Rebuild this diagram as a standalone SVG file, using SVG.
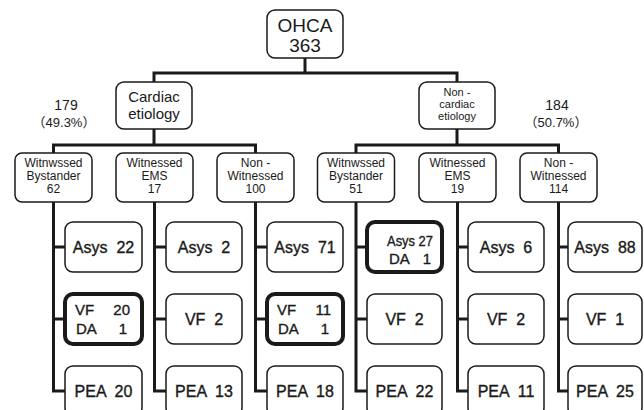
<svg xmlns="http://www.w3.org/2000/svg" width="644" height="410" viewBox="0 0 644 410">
<style>
text{font-family:"Liberation Sans","Noto Sans CJK JP",Arial,sans-serif;fill:#1a1a1a;text-anchor:middle}
.box{fill:#fff;stroke:#1a1a1a;stroke-width:1.5}
.bold{fill:#fff;stroke:#1a1a1a;stroke-width:4}
.con{fill:none;stroke:#1a1a1a;stroke-width:3}
.l2{font-size:12px}
.l3{font-size:16px;white-space:pre;stroke:#1a1a1a;stroke-width:0.35}
.b3{font-size:15px;stroke:#1a1a1a;stroke-width:0.35}
.s{text-anchor:start}
.e{text-anchor:end}
</style>
<rect width="644" height="410" fill="#fff"/>
<g id="connectors">
<path class="con" d="M305 58V73M154 82V73H457V82"/>
<path class="con" d="M154 129V145M53.5 153V145H255.5V153"/>
<path class="con" d="M457 129V145M356 153V145H558.5V153"/>
<path class="con" d="M53.5 202V391H65M53.5 247H65M53.5 319H65"/>
<path class="con" d="M154.5 202V391H166M154.5 247H166M154.5 319H166"/>
<path class="con" d="M255.5 202V391H267M255.5 247H267M255.5 319H267"/>
<path class="con" d="M356 202V391H367M356 247H367M356 319H367"/>
<path class="con" d="M457.5 202V391H468M457.5 247H468M457.5 319H468"/>
<path class="con" d="M558.5 202V391H568M558.5 247H568M558.5 319H568"/>
</g>
<g id="ohca"><rect class="box" x="267" y="10" width="76" height="48" rx="8"/><text x="305" y="32" font-size="19">OHCA</text><text x="305" y="52" font-size="19">363</text></g>
<g id="cardiac"><rect class="box" x="116" y="82" width="76" height="47" rx="8"/><text x="154" y="102" font-size="15">Cardiac</text><text x="154" y="119" font-size="15">etiology</text></g>
<g id="noncardiac"><rect class="box" x="419" y="82" width="76" height="47" rx="8"/><text x="457" y="96" font-size="11">Non -</text><text x="457" y="108" font-size="11">cardiac</text><text x="457" y="120" font-size="11">etiology</text></g>
<g id="pct-cardiac"><text x="66" y="110" font-size="14">179</text><text x="64" y="127" font-size="13">（49.3%）</text></g>
<g id="pct-noncardiac"><text x="557" y="110" font-size="14">184</text><text x="556" y="127" font-size="13">（50.7%）</text></g>
<g id="c-wb"><rect class="box" x="15" y="153" width="77" height="49" rx="7"/><text class="l2" x="53.5" y="167">Witnwssed</text><text class="l2" x="53.5" y="180">Bystander</text><text class="l2" x="53.5" y="193">62</text></g>
<g id="c-we"><rect class="box" x="116" y="153" width="77" height="49" rx="7"/><text class="l2" x="154.5" y="167">Witnessed</text><text class="l2" x="154.5" y="180">EMS</text><text class="l2" x="154.5" y="193">17</text></g>
<g id="c-nw"><rect class="box" x="217" y="153" width="77" height="49" rx="7"/><text class="l2" x="255.5" y="167">Non -</text><text class="l2" x="255.5" y="180">Witnessed</text><text class="l2" x="255.5" y="193">100</text></g>
<g id="n-wb"><rect class="box" x="317.5" y="153" width="77" height="49" rx="7"/><text class="l2" x="356" y="167">Witnwssed</text><text class="l2" x="356" y="180">Bystander</text><text class="l2" x="356" y="193">51</text></g>
<g id="n-we"><rect class="box" x="419" y="153" width="77" height="49" rx="7"/><text class="l2" x="457.5" y="167">Witnessed</text><text class="l2" x="457.5" y="180">EMS</text><text class="l2" x="457.5" y="193">19</text></g>
<g id="n-nw"><rect class="box" x="520" y="153" width="77" height="49" rx="7"/><text class="l2" x="558.5" y="167">Non -</text><text class="l2" x="558.5" y="180">Witnessed</text><text class="l2" x="558.5" y="193">114</text></g>
<g id="c-wb-asys"><rect class="box" x="65" y="222" width="77" height="50" rx="8"/><text class="l3" x="103.5" y="253">Asys  22</text></g>
<g id="c-wb-vf"><rect class="bold" x="65" y="294" width="77" height="50" rx="8"/><text class="b3 s" x="75" y="315">VF</text><text class="b3 e" x="130" y="315">20</text><text class="b3 s" x="76" y="334">DA</text><text class="b3 e" x="127" y="334">1</text></g>
<g id="c-wb-pea"><rect class="box" x="65" y="366" width="77" height="50" rx="8"/><text class="l3" x="103.5" y="397">PEA  20</text></g>
<g id="c-we-asys"><rect class="box" x="166" y="222" width="76" height="50" rx="8"/><text class="l3" x="204" y="253">Asys  2</text></g>
<g id="c-we-vf"><rect class="box" x="166" y="294" width="76" height="50" rx="8"/><text class="l3" x="204" y="325">VF  2</text></g>
<g id="c-we-pea"><rect class="box" x="166" y="366" width="76" height="50" rx="8"/><text class="l3" x="204" y="397">PEA  13</text></g>
<g id="c-nw-asys"><rect class="box" x="267" y="222" width="76" height="50" rx="8"/><text class="l3" x="305" y="253">Asys  71</text></g>
<g id="c-nw-vf"><rect class="bold" x="267" y="294" width="76" height="50" rx="8"/><text class="b3 s" x="277" y="315">VF</text><text class="b3 e" x="331" y="315">11</text><text class="b3 s" x="278" y="334">DA</text><text class="b3 e" x="329" y="334">1</text></g>
<g id="c-nw-pea"><rect class="box" x="267" y="366" width="76" height="50" rx="8"/><text class="l3" x="305" y="397">PEA  18</text></g>
<g id="n-wb-asys"><rect class="bold" x="367" y="222" width="75" height="50" rx="8"/><text class="b3 s" x="387" y="246" textLength="46" lengthAdjust="spacingAndGlyphs">Asys 27</text><text class="b3 s" x="389" y="264">DA</text><text class="b3 e" x="431" y="264">1</text></g>
<g id="n-wb-vf"><rect class="box" x="367" y="294" width="75" height="50" rx="8"/><text class="l3" x="404.5" y="325">VF  2</text></g>
<g id="n-wb-pea"><rect class="box" x="367" y="366" width="75" height="50" rx="8"/><text class="l3" x="404.5" y="397">PEA  22</text></g>
<g id="n-we-asys"><rect class="box" x="468" y="222" width="76" height="50" rx="8"/><text class="l3" x="506" y="253">Asys  6</text></g>
<g id="n-we-vf"><rect class="box" x="468" y="294" width="76" height="50" rx="8"/><text class="l3" x="506" y="325">VF  2</text></g>
<g id="n-we-pea"><rect class="box" x="468" y="366" width="76" height="50" rx="8"/><text class="l3" x="506" y="397">PEA  11</text></g>
<g id="n-nw-asys"><rect class="box" x="568" y="222" width="74" height="50" rx="8"/><text class="l3" x="605" y="253">Asys  88</text></g>
<g id="n-nw-vf"><rect class="box" x="568" y="294" width="74" height="50" rx="8"/><text class="l3" x="605" y="325">VF  1</text></g>
<g id="n-nw-pea"><rect class="box" x="568" y="366" width="74" height="50" rx="8"/><text class="l3" x="605" y="397">PEA  25</text></g>
</svg>
